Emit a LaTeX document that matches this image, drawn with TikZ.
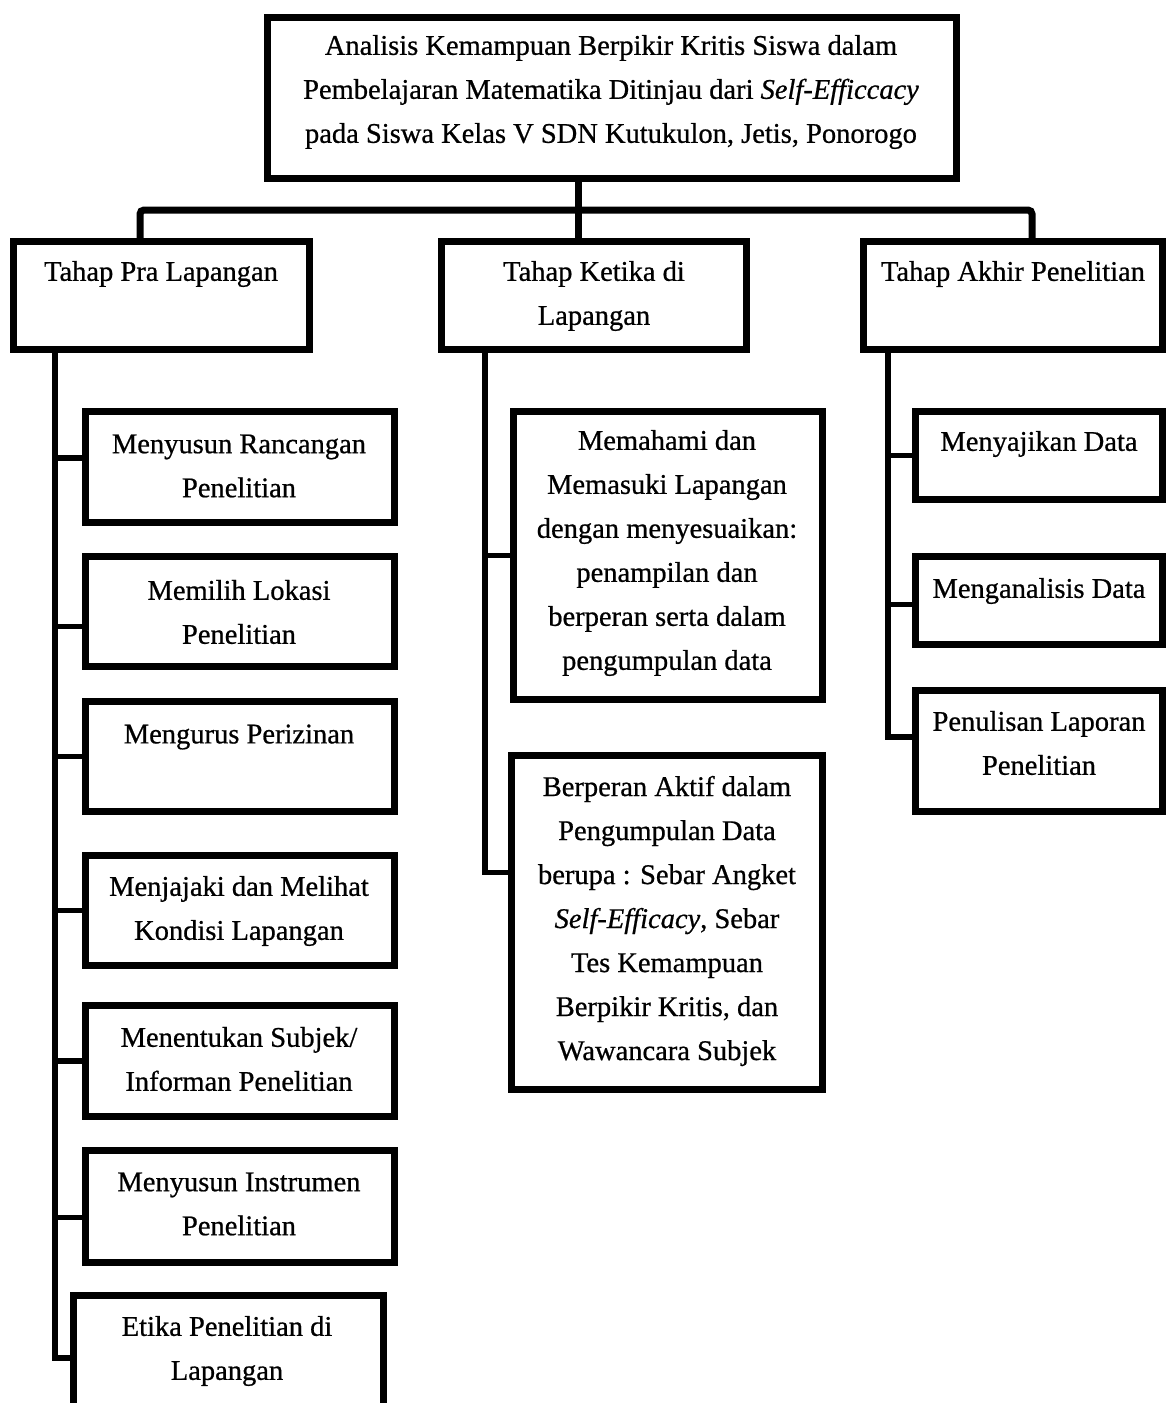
\documentclass[tikz,border=0pt]{standalone}
\usepackage{fontspec}
\setmainfont{Liberation Serif}[FakeBold=0.7]
\tikzset{
  box/.style={draw, line width=7pt, inner sep=0pt, outer sep=0pt},
  txt/.style={align=center, inner sep=0pt, font=\fontsize{28.5}{44}\selectfont},
  conn/.style={line width=7pt, rounded corners=4pt},
  spine/.style={line width=5.5pt},
}
\newcommand{\mybox}[5]{%
  \pgfmathsetmacro{\cx}{(#2+#4)/2}%
  \pgfmathsetmacro{\cy}{(#3+#5)/2}%
  \pgfmathsetmacro{\ww}{#4-#2-7}%
  \pgfmathsetmacro{\hh}{#5-#3-7}%
  \node[box, minimum width=\ww pt, minimum height=\hh pt] (#1) at (\cx,\cy) {};}
\begin{document}
\begin{tikzpicture}[x=1pt,y=-1pt]
\useasboundingbox (0,0) rectangle (1165,1403);
% boxes
\mybox{root}{264}{14}{960}{182}
\mybox{pra}{10}{238}{313}{353}
\mybox{ket}{438}{238}{750}{353}
\mybox{akh}{860}{238}{1166}{353}
\mybox{l1}{82}{408}{398}{526}
\mybox{l2}{82}{553}{398}{670}
\mybox{l3}{82}{698}{398}{815}
\mybox{l4}{82}{852}{398}{969}
\mybox{l5}{82}{1002}{398}{1120}
\mybox{l6}{82}{1147}{398}{1266}
\mybox{l7}{70}{1292}{387}{1412}
\mybox{m1}{510}{408}{826}{703}
\mybox{m2}{508}{752}{826}{1093}
\mybox{r1}{912}{408}{1166}{503}
\mybox{r2}{912}{553}{1166}{648}
\mybox{r3}{912}{687}{1166}{815}
% texts
\node[txt] (root-t) at (611,92) {Analisis Kemampuan Berpikir Kritis Siswa dalam\\Pembelajaran Matematika Ditinjau dari \textit{Self-Efficcacy}\\pada Siswa Kelas V SDN Kutukulon, Jetis, Ponorogo};
\node[txt] (pra-t) at (161,274) {Tahap Pra Lapangan};
\node[txt] (ket-t) at (594,296) {Tahap Ketika di\\Lapangan};
\node[txt] (akh-t) at (1013,274) {Tahap Akhir Penelitian};
\node[txt] (l1-t) at (239,466) {Menyusun Rancangan\\Penelitian};
\node[txt] (l2-t) at (239,612) {Memilih Lokasi\\Penelitian};
\node[txt] (l3-t) at (239,737) {Mengurus Perizinan};
\node[txt] (l4-t) at (239,911) {Menjajaki dan Melihat\\Kondisi Lapangan};
\node[txt] (l5-t) at (239,1059) {Menentukan Subjek/\\Informan Penelitian};
\node[txt] (l6-t) at (239,1204) {Menyusun Instrumen\\Penelitian};
\node[txt] (l7-t) at (227,1351) {Etika Penelitian di\\Lapangan};
\node[txt] (m1-t) at (667,553) {Memahami dan\\Memasuki Lapangan\\dengan menyesuaikan:\\penampilan dan\\berperan serta dalam\\pengumpulan data};
\node[txt] (m2-t) at (667,921) {Berperan Aktif dalam\\Pengumpulan Data\\berupa : Sebar Angket\\\textit{Self-Efficacy}, Sebar\\Tes Kemampuan\\Berpikir Kritis, dan\\Wawancara Subjek};
\node[txt] (r1-t) at (1039,444) {Menyajikan Data};
\node[txt] (r2-t) at (1039,591) {Menganalisis Data};
\node[txt] (r3-t) at (1039,743) {Penulisan Laporan\\Penelitian};
% top connectors
\coordinate (bar) at (578,210);
\coordinate (rootdrop) at ([xshift=310.5pt]root.south west);
\draw[conn] (rootdrop) -- (rootdrop |- ket.north);
\draw[conn] ([xshift=126.5pt]pra.north west) |- (bar) -| ([xshift=168.5pt]akh.north west);
% branch points
\coordinate (b1) at ([yshift=9pt]l1.west);
\coordinate (b2) at ([yshift=-15pt]l2.west);
\coordinate (b6) at ([yshift=-11pt]l6.west);
\coordinate (b7) at ([yshift=-6pt]l7.west);
\coordinate (bm2) at ([yshift=50pt]m2.west);
\coordinate (br2) at ([yshift=-4pt]r2.west);
\coordinate (br3) at ([yshift=14pt]r3.west);
% left spine
\coordinate (ls) at ([xshift=41.5pt]pra.south west);
\draw[spine] (ls) |- (b7);
\draw[spine] (ls |- b1) -- (b1);
\draw[spine] (ls |- b2) -- (b2);
\draw[spine] (ls |- l3.west) -- (l3.west);
\draw[spine] (ls |- l4.west) -- (l4.west);
\draw[spine] (ls |- l5.west) -- (l5.west);
\draw[spine] (ls |- b6) -- (b6);
% middle spine
\coordinate (ms) at ([xshift=43.5pt]ket.south west);
\draw[spine] (ms) |- (bm2);
\draw[spine] (ms |- m1.west) -- (m1.west);
% right spine
\coordinate (rs) at ([xshift=24.5pt]akh.south west);
\draw[spine] (rs) |- (br3);
\draw[spine] (rs |- r1.west) -- (r1.west);
\draw[spine] (rs |- br2) -- (br2);
\end{tikzpicture}
\end{document}
